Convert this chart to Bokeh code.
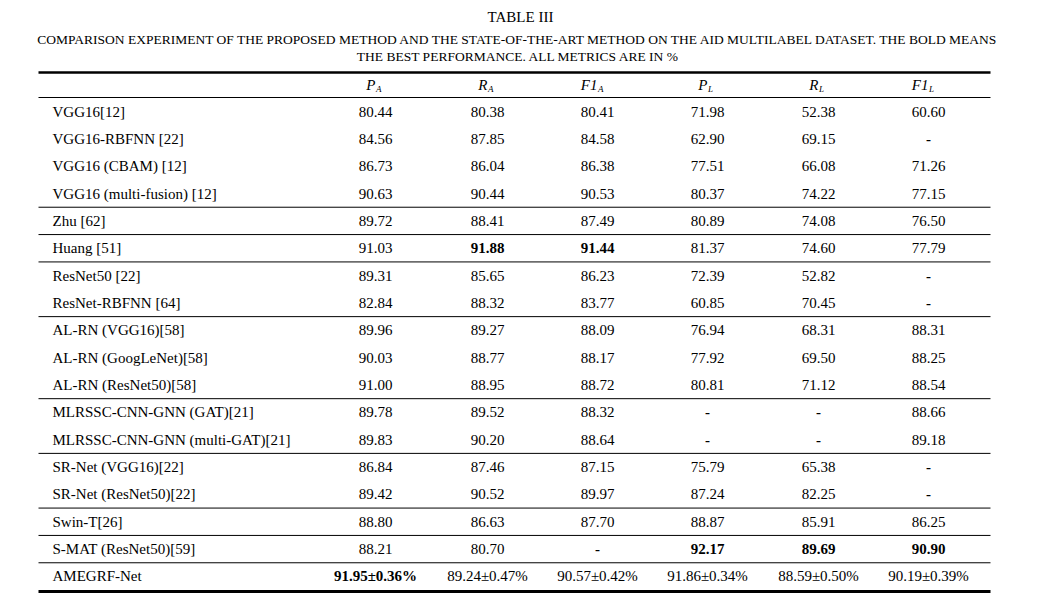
from bokeh.plotting import figure
from bokeh.models import Range1d
from bokeh.core.properties import value
from bokeh.embed import file_html
from bokeh.resources import INLINE

methods = ["VGG16[12]", "VGG16-RBFNN [22]", "VGG16 (CBAM) [12]", "VGG16 (multi-fusion) [12]",
           "Zhu [62]", "Huang [51]", "ResNet50 [22]", "ResNet-RBFNN [64]",
           "AL-RN (VGG16)[58]", "AL-RN (GoogLeNet)[58]", "AL-RN (ResNet50)[58]",
           "MLRSSC-CNN-GNN (GAT)[21]", "MLRSSC-CNN-GNN (multi-GAT)[21]",
           "SR-Net (VGG16)[22]", "SR-Net (ResNet50)[22]", "Swin-T[26]", "S-MAT (ResNet50)[59]",
           "AMEGRF-Net"]
PA = ["80.44","84.56","86.73","90.63","89.72","91.03","89.31","82.84","89.96","90.03","91.00","89.78","89.83","86.84","89.42","88.80","88.21","91.95±0.36%"]
RA = ["80.38","87.85","86.04","90.44","88.41","91.88","85.65","88.32","89.27","88.77","88.95","89.52","90.20","87.46","90.52","86.63","80.70","89.24±0.47%"]
F1A = ["80.41","84.58","86.38","90.53","87.49","91.44","86.23","83.77","88.09","88.17","88.72","88.32","88.64","87.15","89.97","87.70","-","90.57±0.42%"]
PL = ["71.98","62.90","77.51","80.37","80.89","81.37","72.39","60.85","76.94","77.92","80.81","-","-","75.79","87.24","88.87","92.17","91.86±0.34%"]
RL = ["52.38","69.15","66.08","74.22","74.08","74.60","52.82","70.45","68.31","69.50","71.12","-","-","65.38","82.25","85.91","89.69","88.59±0.50%"]
F1L = ["60.60","-","71.26","77.15","76.50","77.79","-","-","88.31","88.25","88.54","88.66","89.18","-","-","86.25","90.90","90.19±0.39%"]
bold_cells = {(5, 1), (5, 2), (16, 3), (16, 4), (16, 5), (17, 0)}
group_ends = [3, 4, 5, 7, 10, 12, 14, 15, 16]
headers = [("P", "A"), ("R", "A"), ("F1", "A"), ("P", "L"), ("R", "L"), ("F1", "L")]

FONT = value("Liberation Serif")
p = figure(width=1024, height=593, output_backend="svg", toolbar_location=None,
           x_range=Range1d(0, 1024), y_range=Range1d(593, 0), min_border=0)
p.axis.visible = False
p.grid.visible = False
p.outline_line_color = None

col_x = [375, 487, 597, 707, 818, 928]
row_y0, row_dy = 111, 27.35
x0, x1 = 38, 990

# titles
p.text(x=[520], y=[16], text=["TABLE III"], text_font=FONT, text_font_size="15px",
       text_align="center", text_baseline="middle")
p.text(x=[518, 518], y=[39, 56],
       text=["COMPARISON EXPERIMENT OF THE PROPOSED METHOD AND THE STATE-OF-THE-ART METHOD ON THE AID MULTILABEL DATASET. THE BOLD MEANS",
             "THE BEST PERFORMANCE. ALL METRICS ARE IN %"],
       text_font=FONT, text_font_size="13.5px", text_align="center", text_baseline="middle")

# rules
p.segment(x0=[x0], y0=[72], x1=[x1], y1=[72], line_width=2.5, color="black")
p.segment(x0=[x0], y0=[97], x1=[x1], y1=[97], line_width=1.2, color="black")
p.segment(x0=[x0], y0=[591], x1=[x1], y1=[591], line_width=3, color="black")
gy = [row_y0 + (g + 0.5) * row_dy for g in group_ends]
p.segment(x0=[x0] * len(gy), y0=gy, x1=[x1] * len(gy), y1=gy, line_width=1, color="black")

# headers
for cx, (m, s) in zip(col_x, headers):
    p.text(x=[cx], y=[84], text=[m], text_font=FONT, text_font_size="15px",
           text_font_style="italic", text_align="right", text_baseline="middle")
    p.text(x=[cx + 0.5], y=[88], text=[s], text_font=FONT, text_font_size="9px",
           text_font_style="italic", text_align="left", text_baseline="middle")

# body
ys = [row_y0 + i * row_dy for i in range(len(methods))]
p.text(x=[52] * len(methods), y=ys, text=methods, text_font=FONT, text_font_size="15px",
       text_align="left", text_baseline="middle")
cols = [PA, RA, F1A, PL, RL, F1L]
for j, col in enumerate(cols):
    nx, ny, nt, bx, by, bt = [], [], [], [], [], []
    for i, v in enumerate(col):
        if (i, j) in bold_cells or v == "-":
            bx.append(col_x[j]); by.append(ys[i]); bt.append(v)
        else:
            nx.append(col_x[j]); ny.append(ys[i]); nt.append(v)
    p.text(x=nx, y=ny, text=nt, text_font=FONT, text_font_size="15px",
           text_align="center", text_baseline="middle")
    p.text(x=bx, y=by, text=bt, text_font=FONT, text_font_size="15px", text_font_style="bold",
           text_align="center", text_baseline="middle")

open("out.html", "w").write(file_html(p, INLINE))
